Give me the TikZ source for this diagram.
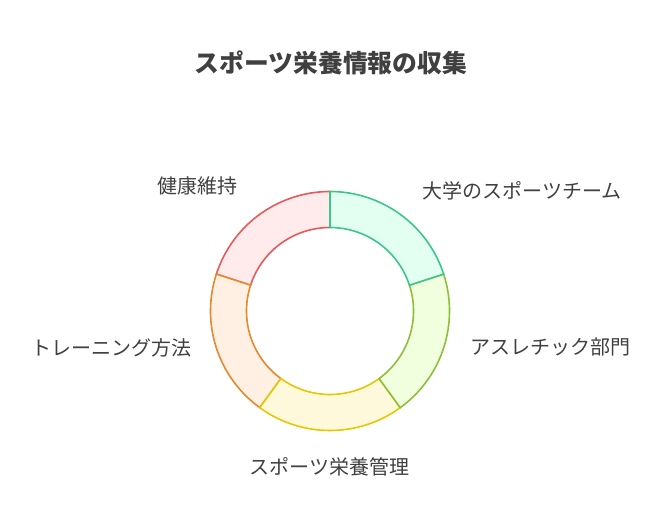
\documentclass[tikz,border=0pt]{standalone}
\usepackage{fontspec}
\setmainfont{Noto Sans CJK JP}
\usetikzlibrary{calc}
\definecolor{txt}{HTML}{404040}
\definecolor{gS}{HTML}{3CC68A}\definecolor{gF}{HTML}{E2FFF2}
\definecolor{lS}{HTML}{8DBF3A}\definecolor{lF}{HTML}{F2FFDE}
\definecolor{yS}{HTML}{E6C800}\definecolor{yF}{HTML}{FFF9DB}
\definecolor{oS}{HTML}{E3892E}\definecolor{oF}{HTML}{FFF0E3}
\definecolor{rS}{HTML}{E55A5A}\definecolor{rF}{HTML}{FFEBEB}
\tikzset{
  seg/.style={line width=1.6pt, line join=round},
  lbl/.style={text=txt, inner sep=0pt, font=\fontsize{20}{22}\selectfont},
  ttl/.style={text=txt, inner sep=0pt, font=\fontsize{24.8}{28}\selectfont\bfseries}
}
\newcommand{\ringseg}[4]{%
  \filldraw[seg, draw=#3, fill=#4] ($(c)+(#1:119.5)$) arc[start angle=#1, end angle=#2, radius=119.5]
    -- ($(c)+(#2:83.5)$) arc[start angle=#2, end angle=#1, radius=83.5] -- cycle;}
\begin{document}
\begin{tikzpicture}[x=1pt,y=1pt]
\useasboundingbox (0,0) rectangle (661,528);
\coordinate (c) at (330,217);
\ringseg{162}{90}{rS}{rF}
\ringseg{234}{162}{oS}{oF}
\ringseg{306}{234}{yS}{yF}
\ringseg{378}{306}{lS}{lF}
\ringseg{90}{18}{gS}{gF}
\node[ttl] (title) at (331,465) {スポーツ栄養情報の収集};
\node[lbl] (kenko) at (197.5,342) {健康維持};
\node[lbl] (daigaku) at (522,337) {大学のスポーツチーム};
\node[lbl] (athletic) at (550.5,181) {アスレチック部門};
\node[lbl] (training) at (111.5,180) {トレーニング方法};
\node[lbl] (kanri) at (329.5,61) {スポーツ栄養管理};
\end{tikzpicture}
\end{document}
